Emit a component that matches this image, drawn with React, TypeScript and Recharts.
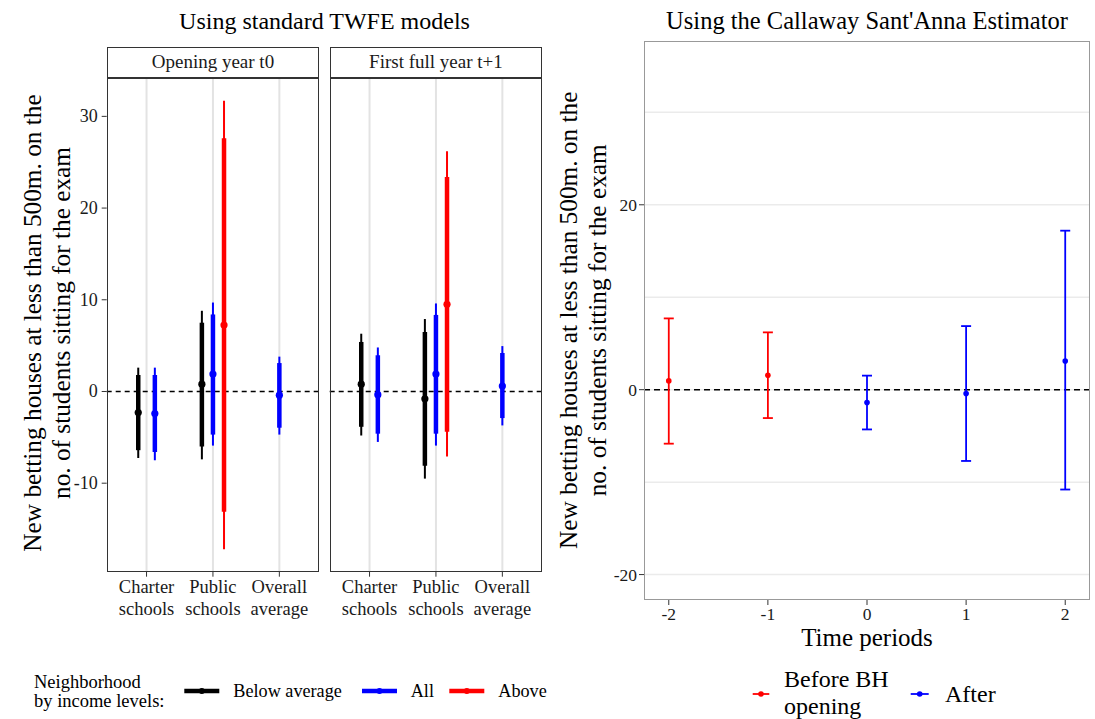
import { ScatterChart, Scatter, XAxis, YAxis, ErrorBar, CartesianGrid, ReferenceLine } from "recharts"

const FONT = '"Liberation Serif", "Times New Roman", serif'

// TWFE panels: categories and y ticks
const schoolTypes = ["Charter\nschools", "Public\nschools", "Overall\naverage"]
const twfeTicks = [-10, 0, 10, 20, 30]

// [estimate, inner low, inner high, outer low, outer high] per school type (null = not estimated)
const t0Below = [[-2.3, -6.4, 1.8, -7.25, 2.6], [0.8, -6.0, 7.5, -7.4, 8.8], null]
const t0All = [[-2.4, -6.6, 1.8, -7.5, 2.6], [1.9, -4.7, 8.4, -5.9, 9.7], [-0.4, -3.95, 3.1, -4.7, 3.8]]
const t0Above = [null, [7.25, -13.1, 27.6, -17.2, 31.7], null]

const t1Below = [[0.8, -3.85, 5.4, -4.8, 6.3], [-0.8, -8.1, 6.5, -9.5, 7.9], null]
const t1All = [[-0.35, -4.6, 3.95, -5.5, 4.8], [1.9, -4.6, 8.35, -5.9, 9.6], [0.6, -2.9, 4.2, -3.7, 4.95]]
const t1Above = [null, [9.5, -4.4, 23.4, -7.1, 26.2], null]

// Callaway Sant'Anna event study
const periods = [-2, -1, 0, 1, 2]
const csEstimate = [0.95, 1.56, -1.39, -0.42, 3.1]
const csLow = [-5.84, -3.07, -4.3, -7.71, -10.8]
const csHigh = [7.71, 6.2, 1.52, 6.88, 17.2]
const csTicks = [-20, 0, 20]
const csGrid = [-20, -10, 0, 10, 20, 30]

const groupColors = ["#000000", "#0000ff", "#ff0000"]
const DODGE = 0.5

type Est = (number[] | null)[]

function buildPanel(series: Est[]) {
    return series.map((arr, g) => {
        const rows: any[] = []
        arr.forEach((v, c) => {
            if (!v) return
            const present = series.map((s, i) => (s[c] ? i : -1)).filter(i => i >= 0)
            const n = present.length
            const k = present.indexOf(g)
            rows.push({
                x: c + 1 + (k - (n - 1) / 2) * DODGE / n,
                y: v[0],
                inner: [v[0] - v[1], v[2] - v[0]],
                outer: [v[0] - v[3], v[4] - v[0]],
            })
        })
        return rows
    })
}

const csBefore = periods.map((p, i) => ({ x: p, y: csEstimate[i], ci: [csEstimate[i] - csLow[i], csHigh[i] - csEstimate[i]] })).filter(d => d.x < 0)
const csAfter = periods.map((p, i) => ({ x: p, y: csEstimate[i], ci: [csEstimate[i] - csLow[i], csHigh[i] - csEstimate[i]] })).filter(d => d.x >= 0)

function SchoolTick({ x, y, payload }: any) {
    const lines = schoolTypes[Math.round(payload.value) - 1].split("\n")
    return (
        <text x={x} y={y} textAnchor="middle" fontFamily={FONT} fontSize={18.5} fill="#1a1a1a">
            {lines.map((l, i) => (
                <tspan key={i} x={x} dy={i === 0 ? 14 : 22}>{l}</tspan>
            ))}
        </text>
    )
}

function YTick({ x, y, payload, size }: any) {
    return (
        <text x={x} y={y} textAnchor="end" dominantBaseline="central" fontFamily={FONT} fontSize={size} fill="#1a1a1a">
            {payload.value}
        </text>
    )
}

function XTick({ x, y, payload }: any) {
    return (
        <text x={x} y={y} dy={13} textAnchor="middle" fontFamily={FONT} fontSize={17.5} fill="#1a1a1a">
            {payload.value}
        </text>
    )
}

function TwfePanel({ series, showY, width, margin }: { series: Est[]; showY: boolean; width: number; margin: any }) {
    const data = buildPanel(series)
    return (
        <ScatterChart width={width} height={640} margin={margin}>
            <CartesianGrid horizontal={false} verticalValues={[1, 2, 3]} stroke="#e3e3e3" strokeWidth={2} />
            <XAxis type="number" dataKey="x" domain={[0.4, 3.6]} ticks={[1, 2, 3]} allowDataOverflow
                interval={0} height={60} axisLine={false} tickLine={{ stroke: "#333" }} tickSize={5} tickMargin={2}
                tick={<SchoolTick />} />
            <YAxis type="number" dataKey="y" domain={[-19.65, 34.15]} ticks={twfeTicks} allowDataOverflow hide={!showY}
                width={50} axisLine={false} tickLine={{ stroke: "#333" }} tickSize={5} tickMargin={4}
                tick={<YTick size={18} />} />
            <ReferenceLine y={0} stroke="#000" strokeDasharray="5 4" strokeWidth={1.5} />
            {data.map((rows, g) => (
                <Scatter key={g} data={rows} isAnimationActive={false}
                    shape={(p: any) => <circle cx={p.cx} cy={p.cy} r={3.6} fill={groupColors[g]} />}>
                    <ErrorBar dataKey="outer" direction="y" width={0} stroke={groupColors[g]} strokeWidth={2} isAnimationActive={false} />
                    <ErrorBar dataKey="inner" direction="y" width={0} stroke={groupColors[g]} strokeWidth={4.5} isAnimationActive={false} />
                </Scatter>
            ))}
        </ScatterChart>
    )
}

const abs = (left: number, top: number, extra: any = {}) => ({ position: "absolute" as const, left, top, ...extra })

function Strip({ left, width, label }: { left: number; width: number; label: string }) {
    return (
        <div style={abs(left, 46.7, {
            width, height: 31.6, border: "1px solid #333", boxSizing: "border-box", background: "#fff",
            display: "flex", alignItems: "center", justifyContent: "center", fontFamily: FONT, fontSize: 19, color: "#1a1a1a",
        })}>{label}</div>
    )
}

function Border({ left, top, width, height, color }: any) {
    return <div style={abs(left, top, { width, height, border: `1px solid ${color}`, boxSizing: "border-box", pointerEvents: "none" })} />
}

export default function App() {
    return (
        <div style={{ position: "absolute", left: 0, top: 0, width: 1095, height: 719, background: "#fff", fontFamily: FONT, overflow: "hidden" }}>
            <div style={abs(0, 0)}>
                <TwfePanel series={[t0Below, t0All, t0Above]} showY width={330}
                    margin={{ top: 78.3, right: 10.8, bottom: 8.3, left: 56.7 }} />
            </div>
            <div style={abs(320, 0)}>
                <TwfePanel series={[t1Below, t1All, t1Above]} showY={false} width={230}
                    margin={{ top: 78.3, right: 7.8, bottom: 8.3, left: 9.7 }} />
            </div>
            <Border left={106.7} top={78.3} width={212.5} height={493.4} color="#333" />
            <Border left={329.7} top={78.3} width={212.5} height={493.4} color="#333" />
            <Strip left={106.7} width={212.5} label="Opening year t0" />
            <Strip left={329.7} width={212.5} label="First full year t+1" />

            <div style={abs(560, 0)}>
                <ScatterChart width={535} height={660} margin={{ top: 40.7, right: 5, bottom: 30, left: 44 }}>
                    <CartesianGrid vertical={false} horizontalValues={csGrid} stroke="#ebebeb" strokeWidth={1.5} />
                    <XAxis type="number" dataKey="x" domain={[-2.25, 2.25]} ticks={periods} allowDataOverflow interval={0}
                        height={30} axisLine={false} tickLine={{ stroke: "#333" }} tickSize={5} tickMargin={2}
                        tick={<XTick />} />
                    <YAxis type="number" dataKey="y" domain={[-22.75, 37.75]} ticks={csTicks} allowDataOverflow
                        width={40} axisLine={false} tickLine={{ stroke: "#333" }} tickSize={5} tickMargin={2}
                        tick={<YTick size={17.5} />} />
                    <ReferenceLine y={0} stroke="#000" strokeDasharray="6 4" strokeWidth={1.5} />
                    <Scatter data={csBefore} isAnimationActive={false}
                        shape={(p: any) => <circle cx={p.cx} cy={p.cy} r={2.8} fill="#ff0000" />}>
                        <ErrorBar dataKey="ci" direction="y" width={5} stroke="#ff0000" strokeWidth={1.8} isAnimationActive={false} />
                    </Scatter>
                    <Scatter data={csAfter} isAnimationActive={false}
                        shape={(p: any) => <circle cx={p.cx} cy={p.cy} r={2.8} fill="#0000ff" />}>
                        <ErrorBar dataKey="ci" direction="y" width={5} stroke="#0000ff" strokeWidth={1.8} isAnimationActive={false} />
                    </Scatter>
                </ScatterChart>
            </div>
            <Border left={644} top={40.7} width={446} height={559.3} color="#999" />

            <svg width={1095} height={719} style={abs(0, 0, { pointerEvents: "none" })} fontFamily={FONT} fill="#000">
                <text x={324.5} y={20.5} fontSize={24} textAnchor="middle" dominantBaseline="central">Using standard TWFE models</text>
                <text x={867} y={20.7} fontSize={24.5} textAnchor="middle" dominantBaseline="central">Using the Callaway Sant'Anna Estimator</text>

                <g fontSize={25.3} textAnchor="middle" dominantBaseline="central">
                    <text transform="translate(32,323) rotate(-90)">New betting houses at less than 500m. on the</text>
                    <text transform="translate(61,323) rotate(-90)">no. of students sitting for the exam</text>
                    <text transform="translate(568,320.3) rotate(-90)">New betting houses at less than 500m. on the</text>
                    <text transform="translate(597,320.3) rotate(-90)">no. of students sitting for the exam</text>
                </g>
                <text x={867} y={637} fontSize={25} textAnchor="middle" dominantBaseline="central">Time periods</text>

                <g fontSize={18.5} dominantBaseline="central">
                    <text x={34} y={682}>Neighborhood</text>
                    <text x={34} y={701}>by income levels:</text>
                </g>
                {[
                    { x: 184.3, label: "Below average", tx: 233.3, c: groupColors[0] },
                    { x: 362, label: "All", tx: 410.7, c: groupColors[1] },
                    { x: 449.3, label: "Above", tx: 498.3, c: groupColors[2] },
                ].map(k => (
                    <g key={k.label}>
                        <line x1={k.x} x2={k.x + 35} y1={691} y2={691} stroke={k.c} strokeWidth={4.5} />
                        <circle cx={k.x + 17.5} cy={691} r={3} fill={k.c} />
                        <text x={k.tx} y={691} fontSize={18.2} dominantBaseline="central">{k.label}</text>
                    </g>
                ))}

                <line x1={752.7} x2={769.3} y1={694} y2={694} stroke="#ff0000" strokeWidth={1.8} />
                <circle cx={761} cy={694} r={2.8} fill="#ff0000" />
                <g fontSize={24} dominantBaseline="central">
                    <text x={784} y={679}>Before BH</text>
                    <text x={784} y={706}>opening</text>
                    <text x={945} y={694}>After</text>
                </g>
                <line x1={910.7} x2={928.7} y1={694} y2={694} stroke="#0000ff" strokeWidth={1.8} />
                <circle cx={919.7} cy={694} r={2.8} fill="#0000ff" />
            </svg>
        </div>
    )
}
